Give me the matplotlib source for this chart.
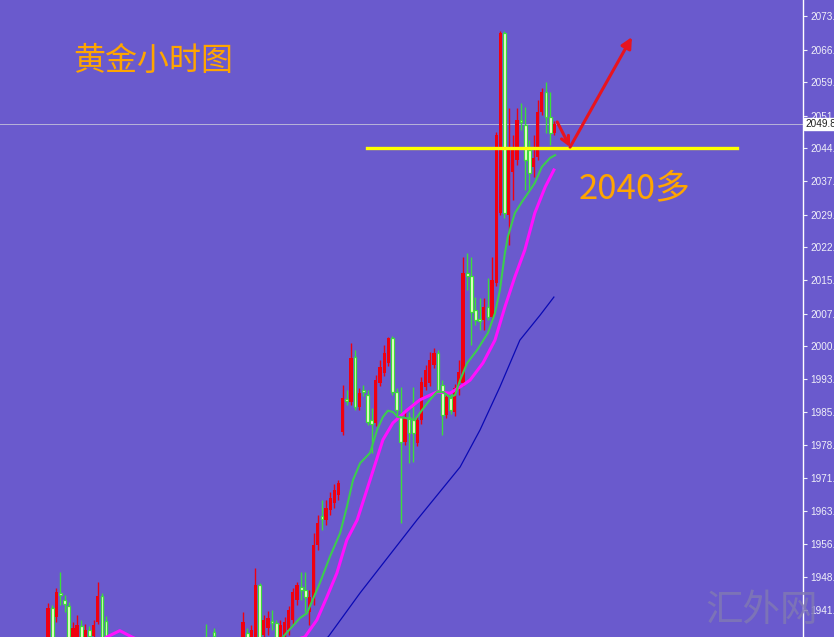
import matplotlib
matplotlib.use("Agg")
import matplotlib.pyplot as plt

plt.rcParams['font.family'] = ['Noto Sans CJK SC', 'DejaVu Sans']

# hourly gold candles (open / high / low / close), one per bar
opens = [1932.7, 1942.05, 1940.0, 1945.4, 1943.8, 1942.5, 1933.8, 1934.9, 1938.0, 1934.9,
         1937.15, 1935.8, 1938.9, 1944.7, 1939.15, 1932.7, 1930.6, 1931.5, 1928.7, 1930.2,
         1927.1, 1928.6, 1925.8, 1927.3, 1925.5, 1927.8, 1929.1, 1926.9, 1929.7, 1930.8,
         1928.9, 1931.3, 1930.4, 1932.1, 1931.2, 1933.3, 1932.0, 1933.9, 1934.9, 1931.6,
         1936.7, 1935.0, 1932.0, 1933.5, 1931.4, 1933.2, 1932.4, 1932.7, 1936.5, 1933.8,
         1932.7, 1947.2, 1936.0, 1937.6, 1939.15, 1938.7, 1934.9, 1936.0, 1937.15, 1939.4,
         1943.8, 1946.7, 1946.1, 1941.2, 1943.8, 1956.1, 1962.5, 1961.65, 1963.9, 1965.4,
         1967.2, 1981.2, 1988.6, 1987.9, 1997.95, 1986.8, 1990.6, 1989.5, 1983.9, 1983.25,
         1992.2, 1994.4, 1996.6, 2002.2, 1990.15, 1984.6, 1979.0, 1984.6, 1983.9, 1978.8,
         1983.9, 1991.3, 1992.2, 1996.2, 1998.8, 1991.7, 1985.0, 1988.8, 1985.7, 1990.6,
         1992.2, 2016.7, 2016.0, 2008.4, 2006.4, 2006.2, 2009.1, 2006.9, 2014.4, 2030.0,
         2070.1, 2029.6, 2039.2, 2041.8, 2050.7, 2049.6, 2044.1, 2040.3, 2042.5, 2052.5,
         2057.0, 2051.4, 2047.8]
highs = [1943.2, 1942.7, 1946.5, 1950.1, 1944.9, 1943.4, 1938.9, 1940.5, 1939.4, 1938.5,
         1938.0, 1939.4, 1947.8, 1945.4, 1940.3, 1933.4, 1932.0, 1932.2, 1930.9, 1930.8,
         1929.3, 1929.0, 1927.9, 1928.1, 1928.4, 1929.6, 1929.8, 1930.2, 1931.4, 1931.5,
         1931.9, 1932.6, 1932.8, 1933.5, 1933.9, 1934.4, 1934.6, 1934.8, 1938.5, 1933.8,
         1937.6, 1935.3, 1934.5, 1934.8, 1934.0, 1934.6, 1935.0, 1941.2, 1937.6, 1938.3,
         1951.0, 1947.6, 1940.5, 1941.4, 1941.6, 1939.4, 1939.4, 1940.0, 1942.5, 1946.5,
         1947.8, 1950.1, 1950.1, 1946.1, 1958.75, 1962.8, 1966.1, 1966.1, 1967.9, 1969.7,
         1970.55, 1991.7, 1990.6, 2001.1, 1999.5, 1991.0, 1991.7, 1990.6, 1986.6, 1993.9,
         1997.3, 2000.6, 2002.4, 2002.6, 1991.0, 1991.3, 1986.1, 1985.7, 1991.3, 1984.8,
         1993.5, 1996.2, 1999.1, 1999.95, 1999.5, 1992.8, 1989.9, 1989.9, 1991.9, 1997.3,
         2020.2, 2021.1, 2020.2, 2011.3, 2011.1, 2011.1, 2015.5, 2020.2, 2048.0, 2070.6,
         2070.6, 2053.4, 2047.4, 2053.4, 2054.5, 2053.6, 2046.3, 2047.4, 2055.2, 2057.9,
         2059.2, 2057.0, 2050.5]
lows = [1931.6, 1933.8, 1938.9, 1942.7, 1941.2, 1932.7, 1932.7, 1933.8, 1933.8, 1933.8,
        1934.5, 1934.9, 1938.5, 1933.8, 1931.6, 1929.8, 1928.9, 1928.0, 1927.5, 1926.4,
        1926.0, 1925.2, 1924.6, 1924.9, 1925.0, 1926.7, 1926.3, 1926.1, 1928.8, 1928.2,
        1928.3, 1929.9, 1929.7, 1930.6, 1930.8, 1931.5, 1931.4, 1930.9, 1930.5, 1929.4,
        1932.7, 1931.0, 1930.2, 1930.8, 1930.1, 1931.5, 1931.6, 1931.6, 1933.8, 1932.7,
        1931.6, 1931.6, 1935.0, 1936.0, 1937.15, 1933.8, 1933.8, 1934.9, 1936.0, 1938.3,
        1942.7, 1943.8, 1941.2, 1938.3, 1942.7, 1955.0, 1959.4, 1960.5, 1962.8, 1964.3,
        1966.1, 1980.6, 1987.3, 1987.3, 1986.1, 1986.1, 1989.3, 1982.8, 1976.6, 1982.6,
        1991.5, 1993.7, 1995.9, 1989.5, 1985.0, 1961.0, 1978.35, 1974.3, 1974.6, 1978.1,
        1983.0, 1990.6, 1991.5, 1995.5, 1990.15, 1980.6, 1984.4, 1985.25, 1984.8, 1989.5,
        1991.5, 2012.9, 2000.6, 2005.1, 2004.0, 2004.0, 2006.2, 2006.2, 2013.8, 2029.6,
        2028.9, 2022.9, 2032.9, 2040.7, 2048.5, 2035.1, 2035.1, 2038.0, 2041.8, 2051.8,
        2047.8, 2045.2, 2047.4]
closes = [1942.05, 1934.9, 1945.6, 1944.9, 1942.9, 1933.8, 1937.6, 1938.3, 1934.9, 1937.15,
          1935.8, 1938.3, 1944.7, 1934.9, 1932.7, 1930.6, 1931.5, 1928.7, 1930.2, 1927.1,
          1928.6, 1925.8, 1927.3, 1925.5, 1927.8, 1929.1, 1926.9, 1929.7, 1930.8, 1928.9,
          1931.3, 1930.4, 1932.1, 1931.2, 1933.3, 1932.0, 1933.9, 1931.7, 1931.6, 1932.7,
          1935.8, 1932.0, 1933.5, 1931.4, 1933.2, 1932.4, 1934.2, 1938.9, 1934.2, 1937.15,
          1947.2, 1932.7, 1939.4, 1939.8, 1938.7, 1934.9, 1938.3, 1938.9, 1941.6, 1945.6,
          1947.2, 1946.1, 1944.5, 1944.5, 1956.1, 1961.0, 1961.9, 1964.3, 1966.55, 1968.3,
          1969.9, 1988.8, 1988.15, 1997.7, 1986.8, 1989.9, 1990.15, 1983.5, 1983.0, 1992.8,
          1995.7, 1998.8, 2002.2, 1990.15, 1986.1, 1979.0, 1984.6, 1981.0, 1981.0, 1983.9,
          1992.4, 1995.05, 1997.3, 1998.8, 1990.6, 1985.0, 1989.0, 1986.1, 1991.0, 1994.6,
          2016.7, 2016.0, 2008.0, 2006.2, 2006.0, 2009.1, 2006.9, 2015.1, 2047.4, 2070.1,
          2030.0, 2044.1, 2044.1, 2050.7, 2050.3, 2041.8, 2038.9, 2042.3, 2052.5, 2057.0,
          2051.4, 2047.8, 2049.8]

# moving averages (bar index, price)
ma_fast_x = [52, 56.6, 60.7, 62.4, 65.5, 67.9, 70.4, 72.0, 73.5, 75.2, 77.6, 79.3, 80.7,
             81.9, 83.1, 84.3, 86.0, 88.4, 90.1, 92.0, 93.7, 95.2, 96.9, 98.1, 99.3, 101.0,
             103.4, 106.0, 107.7, 108.9, 110.1, 110.8, 112.5, 114.2, 115.7, 117.3, 119.0,
             121.0, 122.2]
ma_fast_y = [1932.0, 1935.6, 1939.8, 1940.9, 1947.6, 1953.4, 1958.75, 1964.5, 1970.55,
             1974.3, 1976.6, 1981.7, 1984.6, 1986.0, 1985.7, 1984.6, 1984.4, 1983.9, 1986.1,
             1988.4, 1990.15, 1990.15, 1989.0, 1989.5, 1992.8, 1996.6, 1999.5, 2003.3,
             2007.7, 2012.9, 2021.1, 2024.7, 2030.0, 2032.5, 2034.5, 2036.7, 2040.3,
             2042.3, 2042.9]
ma_mid_x = [10, 14.2, 17.3, 20.2, 30, 45, 61.9, 64.8, 67.2, 69.6, 72.0, 74.5, 77.6, 80.7,
            83.1, 86.5, 89.6, 93.7, 96.9, 100.0, 101.7, 104.8, 107.7, 110.1, 112.5, 114.9,
            117.3, 119.8, 121.9]
ma_mid_y = [1933.5, 1935.6, 1937.0, 1935.6, 1931.5, 1931.0, 1935.6, 1939.4, 1944.5, 1949.8,
            1957.2, 1961.65, 1970.55, 1979.5, 1983.25, 1986.1, 1988.4, 1990.15, 1989.9,
            1991.7, 1992.8, 1996.6, 2001.7, 2009.1, 2015.8, 2021.8, 2030.0, 2035.8, 2039.6]
ma_slow_x = [50, 67.5, 75.2, 88.9, 99.3, 104.1, 108.9, 113.7, 118.6, 121.9]
ma_slow_y = [1928.0, 1935.6, 1945.4, 1961.65, 1973.45, 1981.7, 1991.3, 2001.7, 2007.3, 2011.3]

yticks = [2073.9, 2066.4, 2059.1, 2051.6, 2044.4, 2037.1, 2029.6, 2022.4, 2015.1, 2007.6,
          2000.4, 1993.1, 1985.6, 1978.4, 1971.1, 1963.6, 1956.4, 1948.9, 1941.6]
last_price = 2049.8
support = 2044.4
support_span = [76.9, 166.0]
arrow_x = [122.7, 125.8, 140.7]
arrow_y = [2050.3, 2044.7, 2069.2]

bg = '#6a5acd'
fig = plt.figure(figsize=(8.34, 6.37), dpi=100, facecolor=bg)
ax = fig.add_axes([0, 0, 803 / 834, 1], facecolor=bg)

red = '#f00010'
green = '#3cdc3c'
for i in range(len(opens)):
    o, h, l, c = opens[i], highs[i], lows[i], closes[i]
    if c >= o:
        ax.vlines(i, l, h, color=red, lw=1.0, zorder=3)
        ax.bar(i, max(c - o, 0.25), bottom=o, width=0.78, color=red, zorder=4)
    else:
        ax.vlines(i, l, h, color=green, lw=1.0, zorder=3)
        ax.bar(i, max(o - c, 0.25), bottom=c, width=0.66, facecolor='#f2ffd0',
               edgecolor=green, linewidth=0.9, zorder=4)

ax.plot(ma_mid_x, ma_mid_y, color='#ff10ff', lw=2.2, zorder=5)
ax.plot(ma_fast_x, ma_fast_y, color='#3ccc50', lw=1.5, zorder=6)
ax.plot(ma_slow_x, ma_slow_y, color='#0a0ab4', lw=0.9, zorder=5)

ax.axhline(last_price, color='#b8b4d8', lw=0.7, zorder=2)
ax.plot(support_span, [support, support], color='#ffff00', lw=2.4, zorder=7)

ax.annotate('', xy=(arrow_x[1], arrow_y[1]), xytext=(arrow_x[0], arrow_y[0]),
            arrowprops=dict(arrowstyle='->', color='#e8141e', lw=2.2,
                            mutation_scale=14, shrinkA=0, shrinkB=0), zorder=8)
ax.annotate('', xy=(arrow_x[2], arrow_y[2]), xytext=(arrow_x[1], arrow_y[1]),
            arrowprops=dict(arrowstyle='-|>', color='#e8141e', lw=2.2,
                            mutation_scale=16, shrinkA=0, shrinkB=0), zorder=8)

ax.set_xlim(-48 / 4.15, 755 / 4.15)
ax.set_ylim(1935.59, 2077.46)

for s in ['left', 'top', 'bottom']:
    ax.spines[s].set_visible(False)
ax.spines['right'].set_color('white')
ax.spines['right'].set_linewidth(1.0)
ax.set_xticks([])
ax.yaxis.tick_right()
ax.set_yticks(yticks)
ax.set_yticklabels([f'{v:.1f}' for v in yticks], family='Liberation Sans',
                   fontsize=7.2, color='#f0f0f8')
ax.tick_params(axis='y', colors='#f0f0f8', length=3, width=0.8, pad=2,
               labelcolor='#f0f0f8')

ax.text(1.003, last_price, f'{last_price:.1f}', transform=ax.get_yaxis_transform(),
        family='Liberation Sans', fontsize=7.2, color='#202020', va='center', ha='left',
        bbox=dict(boxstyle='square,pad=0.12', fc='white', ec='white'), clip_on=False,
        zorder=10)

fig.text(73 / 834, 1 - 61 / 637, '黄金小时图', color='#ffa500', fontsize=23,
         va='center', ha='left')
fig.text(579 / 834, 1 - 189 / 637, '2040多', color='#ffa500', fontsize=25,
         va='center', ha='left')
fig.text(705 / 834, 1 - 610 / 637, '汇外网', color='#8078b4', fontsize=27,
         va='center', ha='left', alpha=0.85)

fig.savefig('out.png', dpi=100, facecolor=bg)
